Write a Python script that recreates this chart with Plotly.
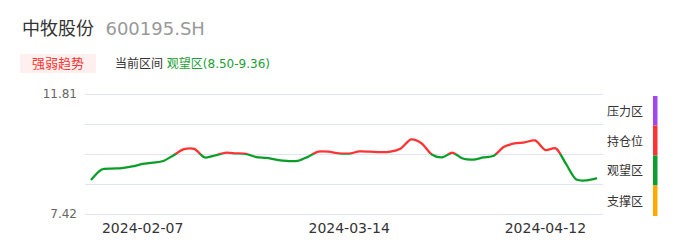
import plotly.graph_objects as go

dates = ["2024-01-31", "2024-02-01", "2024-02-02", "2024-02-05", "2024-02-06", "2024-02-07",
         "2024-02-08", "2024-02-19", "2024-02-20", "2024-02-21", "2024-02-22", "2024-02-23",
         "2024-02-26", "2024-02-27", "2024-02-28", "2024-02-29", "2024-03-01", "2024-03-04",
         "2024-03-05", "2024-03-06", "2024-03-07", "2024-03-08", "2024-03-11", "2024-03-12",
         "2024-03-13", "2024-03-14", "2024-03-15", "2024-03-18", "2024-03-19", "2024-03-20",
         "2024-03-21", "2024-03-22", "2024-03-25", "2024-03-26", "2024-03-27", "2024-03-28",
         "2024-03-29", "2024-04-01", "2024-04-02", "2024-04-03", "2024-04-08", "2024-04-09",
         "2024-04-10", "2024-04-11", "2024-04-12", "2024-04-15", "2024-04-16", "2024-04-17",
         "2024-04-18", "2024-04-19"]
prices = [8.66, 9.04, 9.08, 9.10, 9.16, 9.25, 9.30, 9.36, 9.57, 9.79,
          9.80, 9.49, 9.56, 9.66, 9.64, 9.62, 9.50, 9.47, 9.40, 9.36,
          9.36, 9.51, 9.70, 9.70, 9.64, 9.63, 9.71, 9.70, 9.68, 9.70,
          9.82, 10.15, 10.01, 9.60, 9.49, 9.66, 9.45, 9.41, 9.49, 9.55,
          9.88, 10.00, 10.04, 10.11, 9.76, 9.82, 9.25, 8.68, 8.65, 8.73]
tick_dates = ["2024-02-07", "2024-03-14", "2024-04-12"]
y_min, y_max = 7.42, 11.81
zone_names = ["压力区", "持仓位", "观望区", "支撑区"]
zone_colors = ["#a346f0", "#ff3333", "#0f9e2c", "#ffaa00"]

step = (y_max - y_min) / 4
grid_vals = [y_min + step * k for k in range(5)]
mid = grid_vals[2]

# plot area 92..216 px (124 px); value band 94..214 (120 px), 2 px pad each side
PAD = 2.0
PH = 124.0
BAND = 120.0
eps = PAD * (y_max - y_min) / BAND
d_lo = PAD / PH
d_mid = (PAD + BAND / 2) / PH
d_hi = (PAD + BAND) / PH

FONT = "DejaVu Sans, Noto Sans CJK SC, sans-serif"
RED = "#ff3333"
GREEN = "#0a9e28"

fig = go.Figure()
fig.add_trace(go.Scatter(x=dates, y=prices, mode="lines", yaxis="y",
                         line=dict(color="rgba(0,0,0,0)", width=0),
                         hoverinfo="skip", showlegend=False))
fig.add_trace(go.Scatter(x=dates, y=prices, mode="lines", yaxis="y2",
                         line=dict(color=RED, width=2.3, shape="spline", smoothing=0.8),
                         hoverinfo="skip", showlegend=False))
fig.add_trace(go.Scatter(x=dates, y=prices, mode="lines", yaxis="y3",
                         line=dict(color=GREEN, width=2.3, shape="spline", smoothing=0.8),
                         hoverinfo="skip", showlegend=False))

grid_color = "#dfe5f1"
hidden = dict(showgrid=False, zeroline=False, showline=False, ticks="",
              showticklabels=False, fixedrange=True, anchor="x")
fig.update_layout(
    width=686, height=247,
    margin=dict(l=85, r=83, t=92, b=31),
    paper_bgcolor="white", plot_bgcolor="rgba(0,0,0,0)",
    font=dict(family=FONT, color="#333"),
    xaxis=dict(type="category", range=[-0.58, len(dates) - 1 + 0.58], anchor="y",
               tickvals=tick_dates, ticktext=tick_dates, showgrid=False,
               zeroline=False, showline=False, ticks="", ticklabelstandoff=2,
               tickfont=dict(size=14, color="#333")),
    yaxis=dict(domain=[0, 1], range=[y_min - eps, y_max + eps], tickvals=grid_vals,
               ticktext=[f"{y_min:.2f}", "", "", "", f"{y_max:.2f}"],
               showgrid=True, gridcolor=grid_color, gridwidth=1,
               zeroline=False, showline=False, ticks="", ticklabelstandoff=7,
               tickfont=dict(size=12, color="#666"), fixedrange=True),
    yaxis2=dict(domain=[d_mid, d_hi], range=[mid, y_max], **hidden),
    yaxis3=dict(domain=[d_lo, d_mid], range=[y_min, mid], **hidden),
)

W = 518.0
def px(xp):
    return (xp - 85) / W
def py(yp):
    return (216 - yp) / PH

annotations = []
shapes = []
annotations.append(dict(xref="paper", yref="paper", x=px(20), y=py(28), xanchor="left",
                        yanchor="middle", showarrow=False,
                        text="中牧股份<span style='color:#999'>&nbsp;&nbsp;600195.SH</span>",
                        font=dict(size=18, color="#333", family=FONT)))
shapes.append(dict(type="rect", xref="paper", yref="paper", x0=px(20), x1=px(96),
                   y0=py(73), y1=py(54), fillcolor="#fff0ef", line=dict(width=0), layer="below"))
annotations.append(dict(xref="paper", yref="paper", x=px(58), y=py(63.5), xanchor="center",
                        yanchor="middle", showarrow=False, text="强弱趋势",
                        font=dict(size=13, color="#ff3333", family=FONT)))
annotations.append(dict(xref="paper", yref="paper", x=px(113), y=py(63.5), xanchor="left",
                        yanchor="middle", showarrow=False,
                        text="当前区间 <span style='color:#1aa035'>观望区(8.50-9.36)</span>",
                        font=dict(size=12, color="#333", family=FONT)))
label_y = [112, 141.5, 171, 201]
bar_edges = [96, 125.5, 155.5, 185.5, 216]
for i, name in enumerate(zone_names):
    annotations.append(dict(xref="paper", yref="paper", x=px(625), y=py(label_y[i]),
                            xanchor="center", yanchor="middle", showarrow=False, text=name,
                            font=dict(size=12, color="#333", family=FONT)))
    shapes.append(dict(type="rect", xref="paper", yref="paper", x0=px(653), x1=px(657.5),
                       y0=py(bar_edges[i + 1]), y1=py(bar_edges[i]),
                       fillcolor=zone_colors[i], line=dict(width=0)))

fig.update_layout(annotations=annotations, shapes=shapes)
fig.write_html("out.html")
